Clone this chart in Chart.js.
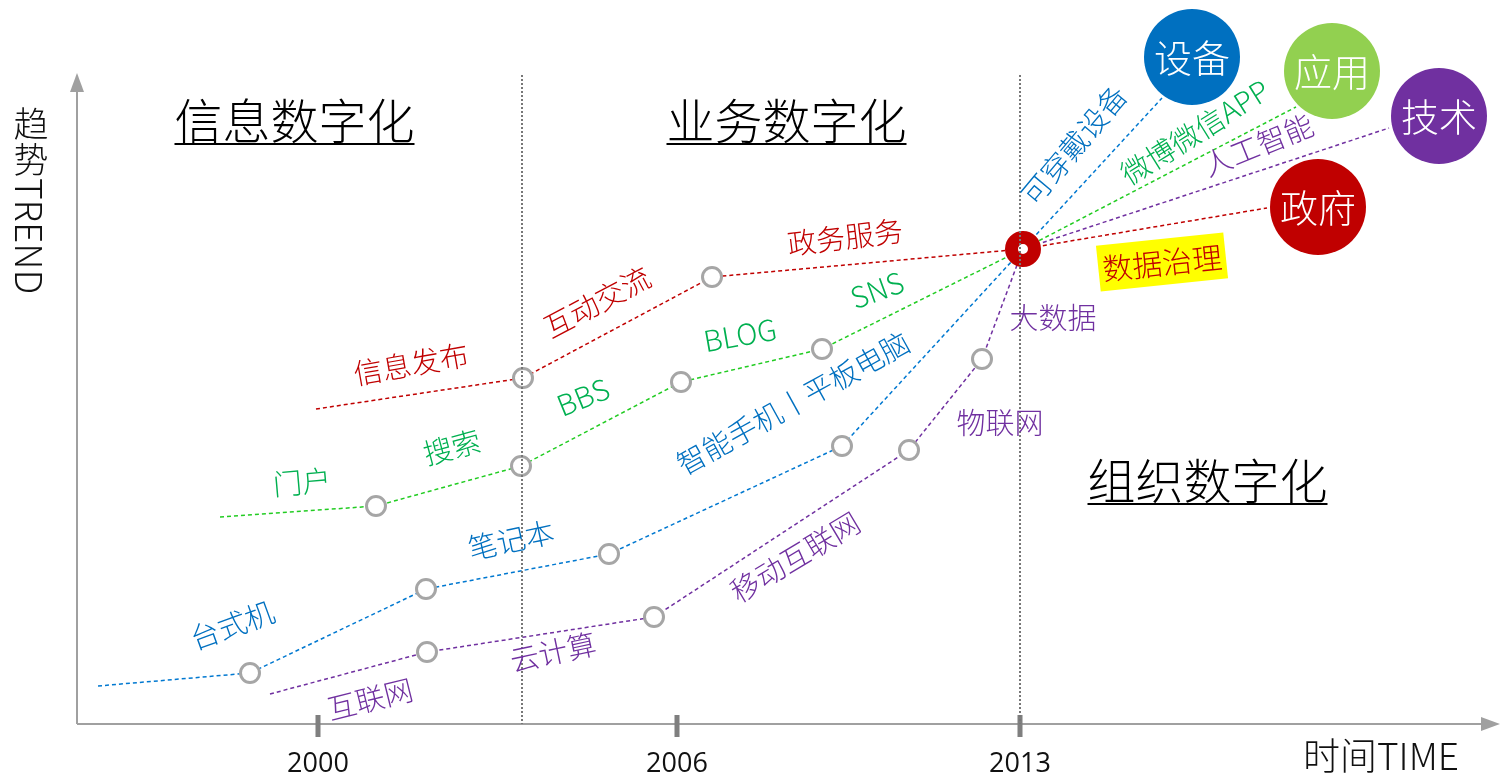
<!DOCTYPE html>
<html>
<head>
<meta charset="utf-8">
<script src="https://cdn.jsdelivr.net/npm/chart.js@4.4.1/dist/chart.umd.min.js"></script>
<style>
    html, body { margin: 0; padding: 0; background: #fff; }
    #wrap { width: 1501px; height: 777px; position: relative; }
</style>
</head>
<body>
<div id="wrap"><canvas id="trendChart"></canvas></div>
<script>
// time / trend values (x = time position, y = trend level)
const yearLabels = ['2000', '2006', '2013'];
const yearValues = [241, 600, 943];
const stageBreaks = [445, 943];

const govX = [239, 446, 635, 946, 1190];
const govY = [315, 346, 447, 475, 516];
const appX = [143, 299, 444, 604, 745, 946, 1219];
const appY = [207, 218, 258, 342, 375, 475, 617];
const devX = [21, 173, 349, 532, 765, 946, 1085];
const devY = [38, 51, 135, 170, 278, 475, 626];
const techX = [193, 350, 577, 832, 905, 946, 1312];
const techY = [30, 72, 107, 274, 365, 475, 596];

const hubPoint = { x: 946, y: 475 };
const bubbleNames = ['设备', '应用', '技术', '政府'];
const bubbleX = [1115, 1255, 1362, 1241];
const bubbleY = [667, 653, 608, 517];

const stageNames = ['信息数字化', '业务数字化', '组织数字化'];
const govWords = ['信息发布', '互动交流', '政务服务'];
const appWords = ['门户', '搜索', 'BBS', 'BLOG', 'SNS', '微博微信APP'];
const devWords = ['台式机', '笔记本', '智能手机丨平板电脑', '可穿戴设备'];
const techWords = ['互联网', '云计算', '移动互联网', '物联网', '大数据', '人工智能'];

const RED = '#c00000', GREEN = '#00b050', BLUE = '#0070c0', PURPLE = '#7030a0';
const CJK = '"Noto Sans CJK SC", "Noto Sans", sans-serif';

function pts(xs, ys) {
    return xs.map((x, i) => ({ x: x, y: ys[i] }));
}

function seriesLine(xs, ys, color) {
    const n = xs.length;
    return {
        data: pts(xs, ys),
        showLine: true,
        clip: false,
        borderColor: color,
        borderWidth: 1.5,
        borderDash: [4, 3],
        pointRadius: ctx => (ctx.dataIndex > 0 && ctx.dataIndex < n - 2) ? 9.5 : 0,
        pointBorderColor: '#a6a6a6',
        pointBackgroundColor: '#ffffff',
        pointBorderWidth: 3,
        pointHoverRadius: 0
    };
}

// text placement: [text, x, y, angle(deg), color]
const wordLayout = [
    [govWords[0], 334, 360, -10, RED],
    [govWords[1], 520, 422, -28, RED],
    [govWords[2], 768, 487, -7, RED],
    [appWords[0], 225, 242, -5, GREEN],
    [appWords[1], 375, 277, -15, GREEN],
    [appWords[2], 506, 327, -22, GREEN],
    [appWords[3], 663, 389, -10, GREEN],
    [appWords[4], 800, 434, -20, GREEN],
    [appWords[5], 1118, 592, -32, GREEN],
    [devWords[0], 155, 99, -20, BLUE],
    [devWords[1], 434, 184, -12, BLUE],
    [devWords[2], 716, 321, -29, BLUE],
    [devWords[3], 997, 579, -50, BLUE],
    [techWords[0], 293, 25, -14, PURPLE],
    [techWords[1], 476, 72, -12, PURPLE],
    [techWords[2], 718, 167, -31, PURPLE],
    [techWords[3], 923, 301, 0, PURPLE],
    [techWords[4], 976, 406, 0, PURPLE],
    [techWords[5], 1181, 579, -22, PURPLE]
];
const stageLayout = [[217.5, 603], [709.5, 603], [1130.5, 243]];

const decorations = {
    id: 'decorations',
    beforeDatasetsDraw(chart) {
        const ctx = chart.ctx;
        const xs = chart.scales.x, ys = chart.scales.y;
        const x0 = xs.getPixelForValue(0), y0 = ys.getPixelForValue(0);
        const xEnd = xs.getPixelForValue(1423), yTop = ys.getPixelForValue(651);
        ctx.save();
        ctx.strokeStyle = '#a0a0a0';
        ctx.fillStyle = '#a0a0a0';
        ctx.lineWidth = 2;
        ctx.beginPath();
        ctx.moveTo(x0, y0);
        ctx.lineTo(x0, yTop + 16);
        ctx.moveTo(x0, y0);
        ctx.lineTo(xEnd - 16, y0);
        ctx.stroke();
        ctx.beginPath();
        ctx.moveTo(x0, yTop);
        ctx.lineTo(x0 - 7, yTop + 19);
        ctx.lineTo(x0 + 7, yTop + 19);
        ctx.closePath();
        ctx.fill();
        ctx.beginPath();
        ctx.moveTo(xEnd, y0);
        ctx.lineTo(xEnd - 19, y0 - 7);
        ctx.lineTo(xEnd - 19, y0 + 7);
        ctx.closePath();
        ctx.fill();

        // year ticks and labels
        ctx.fillStyle = '#7f7f7f';
        yearValues.forEach(v => {
            const px = xs.getPixelForValue(v);
            ctx.fillRect(px - 2.5, y0 - 9, 5, 22);
        });
        ctx.fillStyle = '#111';
        ctx.font = '27px "Open Sans", "Noto Sans", sans-serif';
        ctx.textAlign = 'center';
        ctx.textBaseline = 'middle';
        yearLabels.forEach((t, i) => {
            ctx.fillText(t, xs.getPixelForValue(yearValues[i]), y0 + 40);
        });

        // axis titles
        ctx.font = '300 35px ' + CJK;
        ctx.fillStyle = '#111';
        ctx.fillText('趋', 31, 124);
        ctx.fillText('势', 31, 160);
        ctx.save();
        ctx.translate(31, 178);
        ctx.rotate(Math.PI / 2);
        ctx.textAlign = 'left';
        ctx.font = '300 37px ' + CJK;
        ctx.fillText('TREND', 0, 2);
        ctx.restore();
        ctx.textAlign = 'left';
        ctx.font = '300 37px ' + CJK;
        ctx.fillText('时间TIME', 1303, 756);

        // stage titles
        ctx.font = '300 48px ' + CJK;
        ctx.textAlign = 'center';
        ctx.fillStyle = '#000';
        ctx.strokeStyle = '#000';
        ctx.lineWidth = 2;
        stageNames.forEach((t, i) => {
            const px = xs.getPixelForValue(stageLayout[i][0]);
            const py = ys.getPixelForValue(stageLayout[i][1]);
            const w = ctx.measureText(t).width;
            ctx.fillText(t, px, py);
            ctx.beginPath();
            ctx.moveTo(px - w / 2, py + 23);
            ctx.lineTo(px + w / 2, py + 23);
            ctx.stroke();
        });
        ctx.restore();
    },
    afterDatasetsDraw(chart) {
        const ctx = chart.ctx;
        const xs = chart.scales.x, ys = chart.scales.y;
        ctx.save();
        // dotted stage dividers
        ctx.strokeStyle = '#777';
        ctx.lineWidth = 2;
        ctx.setLineDash([2, 2]);
        stageBreaks.forEach(v => {
            const px = xs.getPixelForValue(v);
            ctx.beginPath();
            ctx.moveTo(px, ys.getPixelForValue(649));
            ctx.lineTo(px, ys.getPixelForValue(0));
            ctx.stroke();
        });
        ctx.setLineDash([]);

        ctx.textAlign = 'center';
        ctx.textBaseline = 'middle';

        // 数据治理 highlighted
        ctx.save();
        ctx.translate(xs.getPixelForValue(1085), ys.getPixelForValue(462));
        ctx.rotate(-6 * Math.PI / 180);
        ctx.fillStyle = '#ffff00';
        ctx.fillRect(-64, -23, 128, 46);
        ctx.fillStyle = RED;
        ctx.font = '300 30px ' + CJK;
        ctx.fillText('数据治理', 0, 1);
        ctx.restore();

        ctx.font = '300 29px ' + CJK;
        wordLayout.forEach(w => {
            ctx.save();
            ctx.translate(xs.getPixelForValue(w[1]), ys.getPixelForValue(w[2]));
            ctx.rotate(w[3] * Math.PI / 180);
            ctx.fillStyle = w[4];
            ctx.fillText(w[0], 0, 0);
            ctx.restore();
        });

        ctx.font = '300 38px ' + CJK;
        ctx.fillStyle = '#fff';
        bubbleNames.forEach((t, i) => {
            ctx.fillText(t, xs.getPixelForValue(bubbleX[i]), ys.getPixelForValue(bubbleY[i]) + 1);
        });
        ctx.restore();
    }
};

new Chart(document.getElementById('trendChart'), {
    type: 'scatter',
    data: {
        datasets: [
            {
                data: pts(bubbleX, bubbleY),
                clip: false,
                pointRadius: 48,
                pointHoverRadius: 48,
                pointBorderWidth: 0,
                pointBackgroundColor: ['#0070c0', '#92d050', '#7030a0', '#c00000']
            },
            {
                data: [hubPoint],
                clip: false,
                pointRadius: 11.5,
                pointHoverRadius: 11.5,
                pointBorderWidth: 13,
                pointBorderColor: RED,
                pointBackgroundColor: '#ffffff'
            },
            seriesLine(govX, govY, '#c00000'),
            seriesLine(appX, appY, '#22cc22'),
            seriesLine(devX, devY, '#0078d0'),
            seriesLine(techX, techY, '#7030a0')
        ]
    },
    options: {
        responsive: true,
        maintainAspectRatio: false,
        animation: false,
        events: [],
        // big bubbles force ~48px of padding on top/right, so the scales span the rest
        layout: { padding: { left: 77, right: 48, top: 48, bottom: 53 } },
        scales: {
            x: { type: 'linear', min: 0, max: 1376, display: false },
            y: { type: 'linear', min: 0, max: 676, display: false }
        },
        plugins: {
            legend: { display: false },
            tooltip: { enabled: false }
        }
    },
    plugins: [decorations]
});
</script>
</body>
</html>
